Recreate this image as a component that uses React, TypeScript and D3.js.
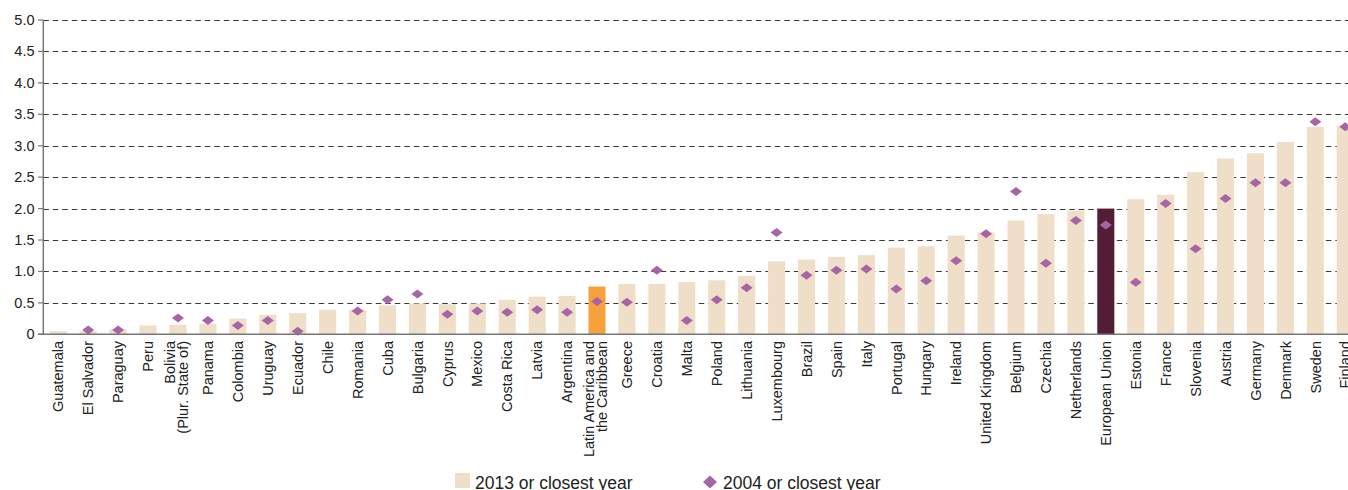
import React from "react";
import * as d3 from "d3";

const categories: string[] = [
  "Guatemala", "El Salvador", "Paraguay", "Peru", "Bolivia\n(Plur. State of)", "Panama",
  "Colombia", "Uruguay", "Ecuador", "Chile", "Romania", "Cuba", "Bulgaria", "Cyprus",
  "Mexico", "Costa Rica", "Latvia", "Argentina", "Latin America and\nthe Caribbean",
  "Greece", "Croatia", "Malta", "Poland", "Lithuania", "Luxembourg", "Brazil", "Spain",
  "Italy", "Portugal", "Hungary", "Ireland", "United Kingdom", "Belgium", "Czechia",
  "Netherlands", "European Union", "Estonia", "France", "Slovenia", "Austria", "Germany",
  "Denmark", "Sweden", "Finland",
];

const values2013: number[] = [
  0.05, 0.05, 0.08, 0.14, 0.15, 0.17, 0.25, 0.31, 0.34, 0.39, 0.39, 0.46, 0.49, 0.48,
  0.49, 0.55, 0.6, 0.61, 0.76, 0.8, 0.8, 0.83, 0.86, 0.93, 1.16, 1.19, 1.23, 1.26,
  1.38, 1.4, 1.57, 1.62, 1.81, 1.91, 1.97, 2.0, 2.15, 2.22, 2.58, 2.8, 2.88, 3.06,
  3.3, 3.32,
];

const values2004: (number | null)[] = [
  null, 0.07, 0.07, null, 0.26, 0.22, 0.14, 0.22, 0.05, null, 0.37, 0.55, 0.64, 0.32,
  0.37, 0.35, 0.39, 0.35, 0.52, 0.51, 1.02, 0.22, 0.55, 0.74, 1.62, 0.94, 1.02, 1.04,
  0.72, 0.85, 1.17, 1.6, 2.27, 1.13, 1.81, 1.74, 0.83, 2.08, 1.36, 2.16, 2.41, 2.41,
  3.38, 3.3,
];

const yTicks: number[] = [0, 0.5, 1, 1.5, 2, 2.5, 3, 3.5, 4, 4.5, 5];
const legendLabels: string[] = ["2013 or closest year", "2004 or closest year"];

const W = 1348;
const H = 490;
const FONT = "'Liberation Sans', Arial, sans-serif";
const BEIGE = "#efdfc8";
const ORANGE = "#f7a13d";
const EU = "#541d36";
const DIAMOND = "#a865a6";

export default function App() {
  const x = d3
    .scaleBand<string>()
    .domain(categories)
    .range([43.3, 43.3 + categories.length * 29.93])
    .paddingInner(0.43)
    .paddingOuter(0.215);
  const y = d3.scaleLinear().domain([0, 5]).range([334.3, 20]);
  const bw = x.bandwidth();

  const barColor = (c: string) =>
    c.startsWith("Latin America") ? ORANGE : c === "European Union" ? EU : BEIGE;

  const diamond = (cx: number, cy: number, w = 12, h = 9) =>
    `M${cx},${cy - h / 2}L${cx + w / 2},${cy}L${cx},${cy + h / 2}L${cx - w / 2},${cy}Z`;

  return (
    <svg
      width={W}
      height={H}
      style={{ position: "absolute", left: 0, top: 0, fontFamily: FONT }}
    >
      {yTicks.map((t) =>
        t === 0 ? null : (
          <line
            key={"g" + t}
            x1={43.3}
            x2={W}
            y1={Math.round(y(t)) + 0.5}
            y2={Math.round(y(t)) + 0.5}
            stroke="#3a3a3a"
            strokeWidth={1}
            strokeDasharray="5.5,4"
          />
        )
      )}
      {categories.map((c, i) => (
        <rect
          key={"b" + i}
          x={x(c)!}
          y={y(values2013[i])}
          width={bw}
          height={y(0) - y(values2013[i])}
          fill={barColor(c)}
        />
      ))}
      {categories.map((c, i) =>
        values2004[i] == null ? null : (
          <path
            key={"d" + i}
            d={diamond(x(c)! + bw / 2, y(values2004[i] as number))}
            fill={DIAMOND}
          />
        )
      )}
      <line x1={43.3} x2={43.3} y1={y(5)} y2={y(0)} stroke="#777" strokeWidth={1.5} />
      <line x1={38} x2={W} y1={y(0)} y2={y(0)} stroke="#777" strokeWidth={1.5} />
      {yTicks.map((t) => (
        <g key={"t" + t}>
          <line x1={38} x2={43.3} y1={y(t)} y2={y(t)} stroke="#777" strokeWidth={1.2} />
          <text x={34.5} y={y(t) + 5} textAnchor="end" fontSize={14.5} fill="#222">
            {t === 0 ? "0" : t.toFixed(1)}
          </text>
        </g>
      ))}
      {categories.map((c, i) => {
        const lines = c.split("\n");
        const cx = x(c)! + bw / 2;
        return (
          <text
            key={"l" + i}
            transform={`translate(${cx},341) rotate(-90)`}
            textAnchor="end"
            fontSize={14.5}
            fill="#222"
          >
            {lines.map((ln, j) => (
              <tspan key={j} x={0} y={lines.length === 1 ? 5.2 : -3 + j * 13}>
                {ln}
              </tspan>
            ))}
          </text>
        );
      })}
      <rect x={455} y={473} width={15} height={15} fill={BEIGE} />
      <text x={475} y={489} fontSize={17.5} fill="#222">
        {legendLabels[0]}
      </text>
      <path d={diamond(710, 482, 14, 13)} fill={DIAMOND} />
      <text x={723} y={489} fontSize={17.5} fill="#222">
        {legendLabels[1]}
      </text>
    </svg>
  );
}
